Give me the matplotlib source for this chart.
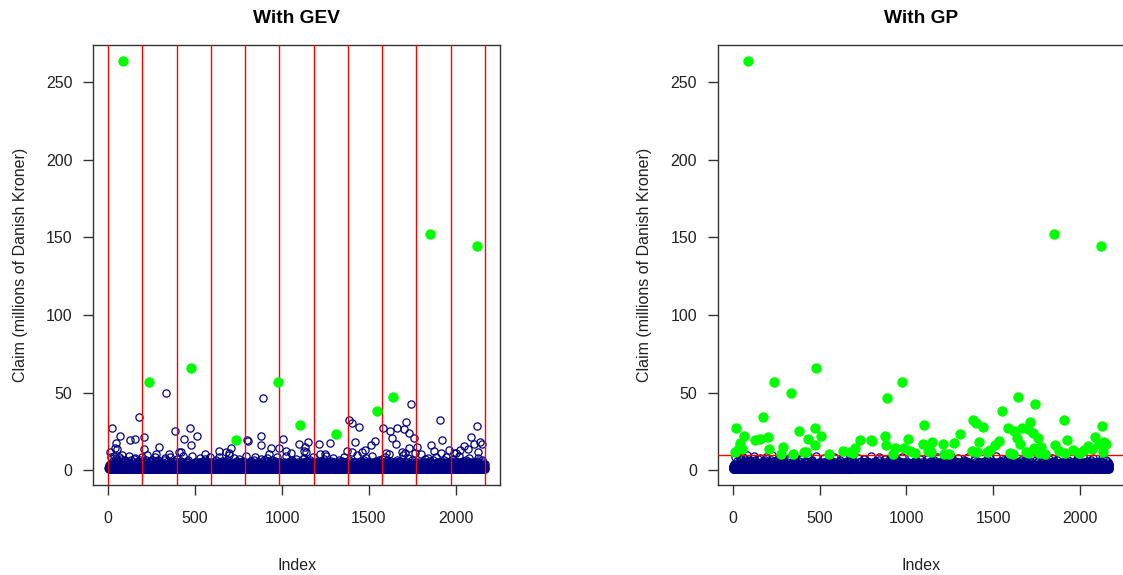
"""
Danish fire claims: block maxima (GEV) and threshold exceedances (GP)
"""

import numpy as np
import matplotlib
matplotlib.use("Agg")
import matplotlib.pyplot as plt

# claims above 10 millions (index, millions DKK)
big_idx = [13, 19, 38, 42, 52, 65, 86, 128, 157, 176, 205, 207, 236, 276, 290,
           334, 349, 382, 409, 420, 435, 472, 476, 477, 508, 557, 637, 675, 694,
           704, 733, 796, 804, 877, 881, 888, 925, 934, 975, 984, 1007, 1020,
           1050, 1097, 1101, 1126, 1130, 1140, 1149, 1213, 1216, 1245, 1276,
           1309, 1376, 1385, 1403, 1405, 1420, 1443, 1462, 1480, 1510, 1533,
           1549, 1583, 1596, 1615, 1621, 1635, 1641, 1654, 1664, 1690, 1700,
           1705, 1712, 1730, 1733, 1740, 1759, 1765, 1775, 1798, 1850, 1855,
           1875, 1909, 1912, 1923, 1960, 1990, 2000, 2024, 2047, 2067, 2086,
           2105, 2121, 2124, 2130, 2139, 2150]
big_val = [11.8, 26.9, 14.6, 17.8, 13.5, 22.1, 263.3, 19.3, 20.0, 34.4, 21.7,
           13.5, 56.7, 10.3, 15.3, 50.0, 10.7, 25.1, 11.8, 11.8, 20.0, 27.3,
           16.3, 66.0, 22.1, 10.3, 12.5, 11.8, 11.4, 14.6, 19.3, 19.3, 19.1,
           22.1, 16.1, 46.8, 10.3, 14.6, 57.1, 14.6, 20.0, 12.2, 11.0, 16.8,
           29.2, 12.5, 15.3, 11.5, 18.2, 16.8, 10.3, 10.6, 17.6, 23.6, 12.5,
           32.4, 30.3, 12.0, 18.5, 28.1, 11.8, 13.0, 16.1, 18.7, 38.2, 27.5,
           11.4, 10.3, 25.3, 21.0, 47.0, 16.8, 26.9, 12.0, 26.4, 11.4, 31.1,
           24.3, 14.6, 42.5, 21.0, 11.0, 15.0, 10.3, 152.4, 16.1, 12.5, 32.4,
           11.4, 19.3, 12.8, 11.0, 10.8, 13.1, 15.7, 13.5, 21.7, 16.8, 144.7,
           28.5, 11.5, 18.2, 16.8]

# everything else sits in the band below 10, one character per claim,
# each character is a level looked up in band_values (millions DKK)
band_levels = "0123456789abcdefgh"
band_values = [1.0, 1.5, 2.1, 2.8, 3.5, 4.3, 5.1, 5.9, 6.7, 7.4,
               8.0, 8.4, 8.8, 9.1, 9.4, 9.6, 9.8, 9.9]
band_rows = [
    "1021304150 210b320162 0142030715 102d102413 02a5101302 8104210631 3c02141025 0912031704 1f20310520 1240610283",
    "0310251041 2031602150 e104213081 0231405120 1620319041 0213a21051 3024106130 2170412503 1028140213 6102b30412",
    "2104130261 0315021408 1203g10251 4102130720 5130241062 1038102415 0213051702 c104213061 2051031480 3120416021",
    "1302510412 0621304180 2130a51024 1306210315 0241702130 5102140b31 2061302410 3150210427 0132051604 1021390215",
    "4031025106 1203140215 7021306140 2d10315021 0412630152 1024103816 2015031420 1602541031 0e21304152 1031206140",
    "2150310462 1304120531 0216104a20 3150213041 0621730152 0410320916 1302410250 3106120413 2051c21036 1024150312",
    "0310421503 6120314082 1053102416 2031b50214 1302610413 5021037102 4106123051 0214301620 8310251041 2106f31024",
    "1420316051 3021405124 0a13021630 2150410372 1024130615 0320914021 6130251043 1024170312 0512306140 2130d41025",
    "3104215062 0140231503 1720410362 1025031408 2c13041520 3106214031 0521403160 2413051921 0312406150 1203415082",
    "0213614025 1302a71041 3052104130 6210315024 1408203162 0413025170 3120641035 2b10412603 1502413061 0231504120",
    "1503210462 3140251036 0214e31052 1403612041 0250317024 1310628140 2031504162 1042103591 3051240130 6201430215",
    "2041305162 1302415039 0231a41062 1530241073 1204160321 5031402180 3120461502 1304215c61 0421305120 3152061430",
    "1304216052 0315024160 3102470213 5061032410 9021345102 3106d41250 1042130561 2031405172 0421360315 1024a31206",
    "0312405162 1403215063 2105141028 3016204135 0241730216 1052b41031 2604130251 3021460314 1052103820 4161302513",
    "2031540126 1340251031 0614203152 g210430153 1062413025 0371024160 3152041308 2106314025 1a30216410 3051204163",
    "1203614052 3041025e13 0621405132 1024306172 0315206140 2130841025 1063204152 3021490316 0241305162 1302c51041",
    "0412306150 2130415027 1604213052 1302b61403 2051430162 1403205138 0261430152 1024071306 3152041026 1304f21503",
    "2150413062 0314205162 1a02413051 3061240215 1304280316 2051304162 0213d51042 3160241503 1024130652 0413520714",
    "1305214062 3102415039 2041630152 1403102a61 0521304172 3102460315 0241358102 4130621503 1042b13061 2035140216",
    "0214306152 1403215061 3025104182 0631024150 2104c30612 3150241036 1204317025 0316204152 9041302615 1230541062",
    "2103416052 1402315e61 0314205102 6130241573 0215306142 1032410681 2305140213 6021a40315 1062403152 0413206140",
    "1502413062 3140251073 0214a61032 1405203162 0413025816 2031406152 3041250",
]

block_size = 197
threshold = 10

band = "".join(band_rows).replace(" ", "")
claims = np.array([band_values[band_levels.index(c)] for c in band])
assert len(claims) == 2167, len(claims)
claims[np.array(big_idx) - 1] = big_val
n = len(claims)
index = np.arange(1, n + 1)

# block maxima for the GEV panel
n_blocks = n // block_size
bm_idx = []
for b in range(n_blocks):
    seg = claims[b * block_size:(b + 1) * block_size]
    bm_idx.append(b * block_size + int(np.argmax(seg)) + 1)
bm_idx = np.array(bm_idx)

# exceedances for the GP panel
exc = claims > threshold

plt.rcParams["font.family"] = ["Liberation Sans", "DejaVu Sans"]

fig = plt.figure(figsize=(11.23, 5.75), dpi=100)
ax1 = fig.add_axes([0.0831, 0.1565, 0.3621, 0.7652])
ax2 = fig.add_axes([0.6391, 0.1565, 0.3621, 0.7652])

xpad = 0.04 * (n - 1)
ypad = 0.04 * (claims.max() - claims.min())


def style_axes(ax, title):
    ax.set_xlim(1 - xpad, n + xpad)
    ax.set_ylim(claims.min() - ypad, claims.max() + ypad)
    ax.set_xticks([0, 500, 1000, 1500, 2000])
    ax.set_yticks([0, 50, 100, 150, 200, 250])
    for sp in ax.spines.values():
        sp.set_color("#333333")
        sp.set_linewidth(1.0)
    ax.tick_params(direction="out", length=7, width=1, color="#333333",
                   labelsize=11.5, labelcolor="#222222")
    ax.tick_params(axis="x", pad=12)
    ax.tick_params(axis="y", pad=8)
    ax.set_xlabel("Index", fontsize=11.5, color="#222222", labelpad=23)
    ax.set_ylabel("Claim (millions of Danish Kroner)", fontsize=11.5,
                  color="#222222", labelpad=13)
    ax.set_title(title, fontsize=13.8, fontweight="bold", pad=16)


# left: block maxima
ax1.plot(index, claims, "o", ms=5.2, mfc="none", mec="navy", mew=0.9, zorder=2)
for v in range(0, n + 1, block_size):
    ax1.axvline(v, color="red", lw=1.0, zorder=3)
ax1.plot(bm_idx, claims[bm_idx - 1], "o", ms=7.5, color="#00FF00",
         mec="none", zorder=4)
style_axes(ax1, "With GEV")

# right: peaks over threshold
ax2.plot(index, claims, "o", ms=5.2, mfc="none", mec="navy", mew=0.9, zorder=2)
ax2.axhline(threshold, color="red", lw=1.0, zorder=3)
ax2.plot(index[exc], claims[exc], "o", ms=7.5, color="#00FF00",
         mec="none", zorder=4)
style_axes(ax2, "With GP")

fig.savefig("out.png", dpi=100)
